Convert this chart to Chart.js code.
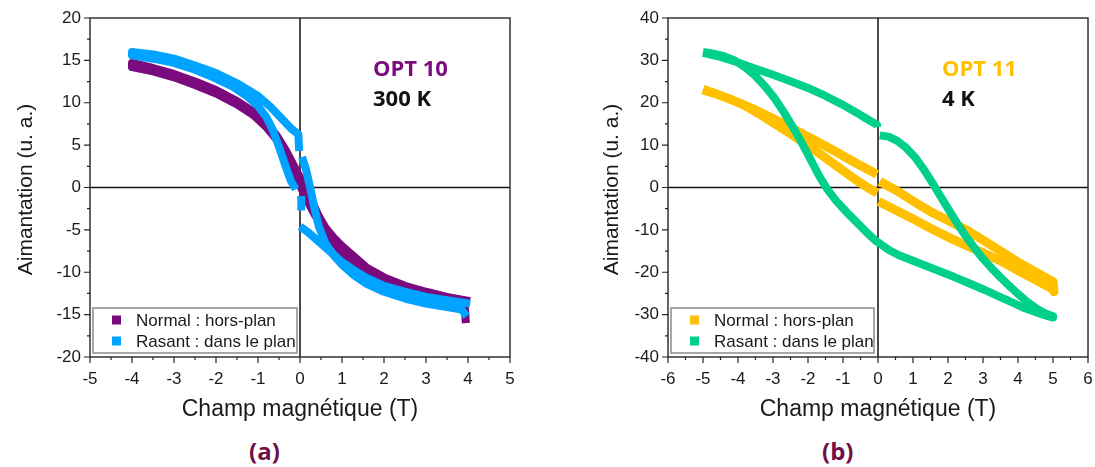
<!DOCTYPE html>
<html><head><meta charset="utf-8">
<script src="https://cdn.jsdelivr.net/npm/chart.js@4.4.0/dist/chart.umd.min.js"></script>
<style>
html,body{margin:0;padding:0;background:#fff;width:1095px;height:467px;overflow:hidden;}
#wa{position:absolute;left:0;top:0;width:548px;height:430px;}
#wb{position:absolute;left:578px;top:0;width:517px;height:430px;}
.cap{position:absolute;top:436px;font:bold 24px "Open Sans";color:#6f1047;line-height:30px;}
</style></head><body>
<div id="wa"><canvas id="ca" width="548" height="430" style="width:548px;height:430px"></canvas></div>
<div id="wb"><canvas id="cb" width="517" height="430" style="width:517px;height:430px"></canvas></div>
<div class="cap" style="left:249px">(a)</div>
<div class="cap" style="left:822px">(b)</div>
<script>
// ---------- DATA ----------
const seriesNames = ['Normal : hors-plan', 'Rasant : dans le plan'];

// (a) OPT 10, 300 K  -- null marks a break in the trace
const fieldA_normal = [3.95,3.92,3.5,3.0,2.5,2.0,1.6,1.3,1.0,0.75,0.55,0.35,0.2,0.05,-0.1,-0.3,-0.55,-0.8,-1.1,-1.5,-2.0,-2.5,-3.0,-3.5,-4.0,
  -4.0,-3.5,-3.0,-2.5,-2.0,-1.5,-1.1,-0.8,-0.55,-0.35,-0.15,0.0,0.15,0.3,0.45,0.6,0.8,1.0,1.3,1.6,2.0,2.5,3.0,3.5,4.05];
const magA_normal = [-16.0,-13.9,-13.4,-12.8,-12.1,-11.2,-10.2,-9.1,-7.7,-6.2,-4.8,-3.2,-1.8,-0.3,1.4,3.5,5.6,7.1,8.5,9.8,11.1,12.1,13.0,13.7,14.2,
  14.7,14.1,13.4,12.5,11.5,10.2,8.9,7.6,6.1,4.5,2.6,1.2,-0.2,-1.8,-3.4,-4.7,-5.9,-6.9,-8.2,-9.5,-10.6,-11.6,-12.3,-12.9,-13.4];

const fieldA_grazing = [4.05,3.5,3.0,2.5,2.0,1.6,1.3,1.0,0.7,0.45,0.2,0.0,null,
  0.03,0.03,null,
  -0.1,-0.22,-0.35,-0.5,-0.65,-0.8,-1.0,-1.27,-1.6,-2.06,-2.5,-3.0,-3.5,-4.0,
  -4.0,-3.5,-3.0,-2.5,-2.0,-1.5,-1.0,-0.7,-0.45,-0.2,-0.04,-0.02,null,
  0.05,0.15,0.25,0.35,0.45,0.6,0.8,1.0,1.3,1.6,2.0,2.5,3.0,3.5,3.85,3.97];
const magA_grazing = [-13.7,-13.3,-12.9,-12.3,-11.6,-10.7,-9.8,-8.8,-7.5,-6.4,-5.3,-4.6,null,
  -2.7,-1.0,null,
  -0.2,0.8,2.6,4.8,6.8,8.3,9.6,10.8,11.9,13.0,13.9,14.7,15.2,15.6,
  16.0,15.7,15.2,14.4,13.5,12.3,10.8,9.5,8.2,6.9,6.3,4.3,null,
  3.6,2.0,-0.2,-2.6,-4.6,-6.5,-8.0,-9.1,-10.4,-11.4,-12.3,-13.1,-13.7,-14.1,-14.4,-15.2];

// (b) OPT 11, 4 K
const fieldB_normal = [-5.0,-4.5,-4.0,-3.5,-3.0,-2.5,-2.0,-1.5,-1.0,-0.6,-0.3,-0.03,null,
  0.05,0.5,1.0,1.5,2.0,2.5,3.0,3.5,4.0,4.5,5.0,
  5.03,5.0,4.5,4.0,3.5,3.0,2.5,2.0,1.5,1.0,0.5,0.02,null,
  -0.02,-0.3,-0.7,-1.0,-1.5,-2.0,-2.5,-3.0,-3.4,-3.8,-4.2,-4.6,-5.0];
const magB_normal = [23.2,21.7,20.1,18.3,16.3,14.2,12.0,9.8,7.5,5.6,4.3,3.1,null,
  1.4,-0.6,-3.2,-5.7,-7.8,-9.9,-12.4,-15.0,-17.6,-19.9,-22.2,
  -24.6,-24.0,-21.8,-19.6,-17.3,-15.4,-13.6,-11.7,-9.6,-7.4,-5.3,-3.3,null,
  -1.3,0.0,2.2,4.0,7.0,9.9,12.7,15.3,17.4,19.3,20.8,22.0,23.0];

const fieldB_grazing = [-5.0,-4.5,-4.0,-3.5,-3.0,-2.5,-2.0,-1.5,-1.0,-0.6,-0.3,-0.03,-0.02,null,
  0.05,0.3,0.55,0.8,1.05,1.3,1.5,1.75,2.0,2.25,2.5,2.75,3.0,3.25,3.5,3.75,4.0,4.25,4.5,4.75,5.0,
  5.0,4.6,4.2,3.8,3.4,3.0,2.6,2.2,1.8,1.4,1.0,0.6,0.3,0.05,
  -0.05,-0.3,-0.6,-0.9,-1.2,-1.45,-1.7,-1.95,-2.2,-2.45,-2.7,-2.95,-3.2,-3.5,-3.8,-4.1,-4.4,-4.7,-5.0];
const magB_grazing = [31.8,30.8,29.5,28.0,26.6,25.1,23.5,21.6,19.5,17.6,16.1,14.8,14.2,null,
  12.3,12.0,11.0,9.4,7.2,4.4,1.8,-1.6,-5.0,-8.3,-11.4,-14.2,-16.8,-19.1,-21.2,-23.2,-25.1,-26.9,-28.4,-29.6,-30.4,
  -30.7,-29.7,-28.5,-27.0,-25.5,-24.0,-22.6,-21.2,-19.9,-18.6,-17.3,-16.0,-14.7,-13.2,
  -12.7,-10.8,-8.3,-5.8,-3.1,-0.4,3.0,7.0,10.9,14.5,17.9,21.0,23.6,26.3,28.4,30.0,31.0,31.6,32.0];

const colorsA = ['#7a0a7e', '#00a3ff'];
const colorsB = ['#ffc000', '#00d08c'];

// ---------- helpers ----------
function pts(xs, ys){
  let last = 0;
  return xs.map((x,i)=>{ if(x===null){ return {x:last, y:null}; } last = x; return {x:x, y:ys[i]}; });
}
function fixY(w){ return s => { s.width = w; s.paddingTop = 0; s.paddingBottom = 0; }; }
function fixX(h){ return s => { s.height = h; s.paddingLeft = 0; s.paddingRight = 0; }; }

const TXT = '#1a1a1a';
const FONT = '"Liberation Sans", Arial, sans-serif';

function decor(cfg){
  return {
    id: 'decor',
    beforeDatasetsDraw(chart){
      const {ctx, chartArea:a, scales:{x, y}} = chart;
      ctx.save();
      ctx.strokeStyle = '#111'; ctx.lineWidth = 1.5;
      const x0 = x.getPixelForValue(0), y0 = y.getPixelForValue(0);
      ctx.beginPath(); ctx.moveTo(x0, a.top); ctx.lineTo(x0, a.bottom);
      ctx.moveTo(a.left, y0); ctx.lineTo(a.right, y0); ctx.stroke();
      ctx.restore();
    },
    afterDraw(chart){
      const {ctx, chartArea:a, scales:{x, y}} = chart;
      ctx.save();
      // frame
      ctx.strokeStyle = '#333'; ctx.lineWidth = 1.5;
      ctx.strokeRect(a.left, a.top, a.right - a.left, a.bottom - a.top);
      // ticks (major + minor), outward
      ctx.lineWidth = 1.2; ctx.strokeStyle = '#222';
      ctx.beginPath();
      for (let v = x.min; v <= x.max + 1e-9; v += cfg.xMinor){
        const major = Math.abs(v/cfg.xMajor - Math.round(v/cfg.xMajor)) < 1e-6;
        const px = x.getPixelForValue(v);
        ctx.moveTo(px, a.bottom); ctx.lineTo(px, a.bottom + (major ? 6 : 3));
      }
      for (let v = y.min; v <= y.max + 1e-9; v += cfg.yMinor){
        const major = Math.abs(v/cfg.yMajor - Math.round(v/cfg.yMajor)) < 1e-6;
        const py = y.getPixelForValue(v);
        ctx.moveTo(a.left, py); ctx.lineTo(a.left - (major ? 6 : 3), py);
      }
      ctx.stroke();
      // axis titles
      ctx.fillStyle = TXT;
      ctx.font = '23px ' + FONT; ctx.textAlign = 'center'; ctx.textBaseline = 'middle';
      ctx.fillText('Champ magnétique (T)', (a.left + a.right)/2, 410);
      ctx.save(); ctx.translate(cfg.yTitleX, (a.top + a.bottom)/2 + 2); ctx.rotate(-Math.PI/2);
      ctx.font = '21px ' + FONT;
      ctx.fillText('Aimantation (u. a.)', 0, 0); ctx.restore();
      // legend box
      const lx = a.left + 3, lw = cfg.legendW, ly = 308, lh = 45;
      ctx.fillStyle = '#fff'; ctx.fillRect(lx, ly, lw, lh);
      ctx.strokeStyle = '#8a8a8a'; ctx.lineWidth = 1.5; ctx.strokeRect(lx, ly, lw, lh);
      ctx.font = '17px ' + FONT; ctx.textAlign = 'left'; ctx.textBaseline = 'middle';
      chart.data.datasets.forEach((ds, i) => {
        const cy = ly + 12 + i*21;
        ctx.fillStyle = ds.borderColor; ctx.fillRect(lx + 19, cy - 4.5, 9, 9);
        ctx.fillStyle = TXT; ctx.fillText(ds.label, lx + 43, cy + 1);
      });
      // annotation
      ctx.font = 'bold 22px "Open Sans", sans-serif';
      ctx.fillStyle = cfg.annColor; ctx.fillText(cfg.ann1, cfg.annX, 70);
      ctx.fillStyle = '#111'; ctx.fillText(cfg.ann2, cfg.annX, 100);
      ctx.restore();
    }
  };
}

function build(id, datasets, xr, yr, right, cfg){
  return new Chart(document.getElementById(id), {
    type: 'scatter',
    data: { datasets },
    options: {
      responsive: false, animation: false, devicePixelRatio: 1,
      layout: { padding: { left: 0, top: 18, right: right, bottom: 0 } },
      plugins: { legend: { display: false }, tooltip: { enabled: false } },
      scales: {
        x: { type: 'linear', min: xr[0], max: xr[1], afterFit: fixX(73),
             grid: { display: false, drawTicks: false }, border: { display: false },
             ticks: { stepSize: 1, padding: 12, color: TXT, font: { size: 17, family: FONT }, maxRotation: 0, autoSkip: false } },
        y: { type: 'linear', min: yr[0], max: yr[1], afterFit: fixY(90),
             grid: { display: false, drawTicks: false }, border: { display: false },
             ticks: { stepSize: yr[2], padding: 9, color: TXT, font: { size: 17, family: FONT }, autoSkip: false } }
      }
    },
    plugins: [decor(cfg)]
  });
}

function ds(label, xs, ys, color, order, w){
  return { label, data: pts(xs, ys), borderColor: color, backgroundColor: color, showLine: true,
           pointRadius: 0, borderWidth: w, spanGaps: false, borderCapStyle: 'butt', borderJoinStyle: 'round',
           tension: 0, order };
}

build('ca', [
  ds(seriesNames[0], fieldA_normal, magA_normal, colorsA[0], 2, 8),
  ds(seriesNames[1], fieldA_grazing, magA_grazing, colorsA[1], 1, 8)
], [-5, 5], [-20, 20, 5], 38,
 { xMinor: 0.5, xMajor: 1, yMinor: 2.5, yMajor: 5, yTitleX: 26, legendW: 204,
   ann1: 'OPT 10', ann2: '300 K', annColor: '#7a0a7e', annX: 373 });

build('cb', [
  ds(seriesNames[0], fieldB_normal, magB_normal, colorsB[0], 2, 9),
  ds(seriesNames[1], fieldB_grazing, magB_grazing, colorsB[1], 1, 8)
], [-6, 6], [-40, 40, 10], 7,
 { xMinor: 0.5, xMajor: 1, yMinor: 5, yMajor: 10, yTitleX: 34, legendW: 203,
   ann1: 'OPT 11', ann2: '4 K', annColor: '#ffc000', annX: 364 });
</script>
</body></html>
